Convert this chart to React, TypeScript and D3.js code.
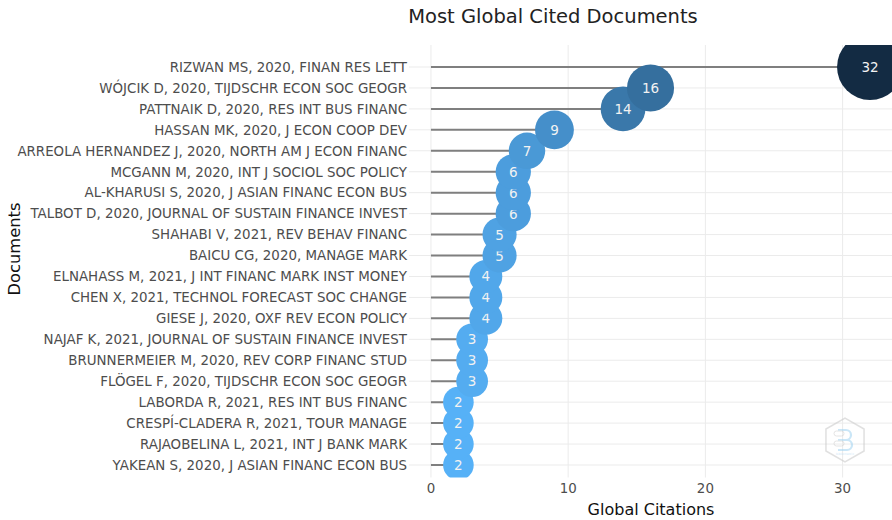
import React from "react";
import * as d3 from "d3";

const documents = [
  "RIZWAN MS, 2020, FINAN RES LETT",
  "WÓJCIK D, 2020, TIJDSCHR ECON SOC GEOGR",
  "PATTNAIK D, 2020, RES INT BUS FINANC",
  "HASSAN MK, 2020, J ECON COOP DEV",
  "ARREOLA HERNANDEZ J, 2020, NORTH AM J ECON FINANC",
  "MCGANN M, 2020, INT J SOCIOL SOC POLICY",
  "AL-KHARUSI S, 2020, J ASIAN FINANC ECON BUS",
  "TALBOT D, 2020, JOURNAL OF SUSTAIN FINANCE INVEST",
  "SHAHABI V, 2021, REV BEHAV FINANC",
  "BAICU CG, 2020, MANAGE MARK",
  "ELNAHASS M, 2021, J INT FINANC MARK INST MONEY",
  "CHEN X, 2021, TECHNOL FORECAST SOC CHANGE",
  "GIESE J, 2020, OXF REV ECON POLICY",
  "NAJAF K, 2021, JOURNAL OF SUSTAIN FINANCE INVEST",
  "BRUNNERMEIER M, 2020, REV CORP FINANC STUD",
  "FLÖGEL F, 2020, TIJDSCHR ECON SOC GEOGR",
  "LABORDA R, 2021, RES INT BUS FINANC",
  "CRESPÍ-CLADERA R, 2021, TOUR MANAGE",
  "RAJAOBELINA L, 2021, INT J BANK MARK",
  "YAKEAN S, 2020, J ASIAN FINANC ECON BUS",
];
const citations = [32, 16, 14, 9, 7, 6, 6, 6, 5, 5, 4, 4, 4, 3, 3, 3, 2, 2, 2, 2];
const xTicks = [0, 10, 20, 30];

const W = 892;
const H = 520;
const plotLeft = 409;
const plotRight = 892;
const plotTop = 45;
const plotBottom = 477.5;
const FONT = "'DejaVu Sans', Verdana, sans-serif";

export default function App() {
  const x = d3.scaleLinear().domain([-1.6, 33.6]).range([plotLeft, plotRight]);
  const y = d3.scalePoint<string>().domain(documents).range([67, 465]);
  const minV = d3.min(citations) as number;
  const maxV = d3.max(citations) as number;
  const r = d3.scaleLinear().domain([minV, maxV]).range([15.3, 33]);
  const color = d3
    .scaleLinear<string>()
    .domain([minV, maxV])
    .range(["#56B1F7", "#132B43"])
    .interpolate(d3.interpolateLab);

  const order = documents.map((d, i) => i).reverse();

  const hexPts = d3.range(6).map((k) => {
    const a = (Math.PI / 3) * k + Math.PI / 6;
    return [845 + 22 * Math.cos(a), 440 + 22 * Math.sin(a)];
  });

  return (
    <svg width={W} height={H} style={{ position: "absolute", left: 0, top: 0, background: "#fff" }}>
      <defs>
        <clipPath id="plotclip">
          <rect x={plotLeft} y={plotTop} width={plotRight - plotLeft} height={plotBottom - plotTop} />
        </clipPath>
      </defs>
      <text x={553} y={23} textAnchor="middle" fontFamily={FONT} fontSize={19.5} fill="#222">
        Most Global Cited Documents
      </text>
      <g>
        {xTicks.map((t) => (
          <line key={t} x1={x(t)} x2={x(t)} y1={plotTop} y2={plotBottom} stroke="#EBEBEB" strokeWidth={1} />
        ))}
        {documents.map((d) => (
          <line key={d} x1={plotLeft} x2={plotRight} y1={y(d)} y2={y(d)} stroke="#EBEBEB" strokeWidth={1} />
        ))}
      </g>
      <g>
        {documents.map((d) => (
          <text
            key={d}
            x={407}
            y={(y(d) as number) + 4.8}
            textAnchor="end"
            fontFamily={FONT}
            fontSize={13.4}
            fill="#4D4D4D"
          >
            {d}
          </text>
        ))}
      </g>
      <g clipPath="url(#plotclip)">
        {documents.map((d, i) => (
          <line
            key={d}
            x1={x(0)}
            x2={x(citations[i])}
            y1={y(d)}
            y2={y(d)}
            stroke="#7F7F7F"
            strokeWidth={2}
          />
        ))}
        {order.map((i) => (
          <g key={documents[i]}>
            <circle cx={x(citations[i])} cy={y(documents[i])} r={r(citations[i])} fill={color(citations[i])} />
            <text
              x={x(citations[i])}
              y={(y(documents[i]) as number) + 5}
              textAnchor="middle"
              fontFamily={FONT}
              fontSize={13.5}
              fill="#F2F2F2"
            >
              {citations[i]}
            </text>
          </g>
        ))}
      </g>
      {xTicks.map((t) => (
        <text key={t} x={x(t)} y={493} textAnchor="middle" fontFamily={FONT} fontSize={13.4} fill="#4D4D4D">
          {t}
        </text>
      ))}
      <text x={651} y={515} textAnchor="middle" fontFamily={FONT} fontSize={16} fill="#111">
        Global Citations
      </text>
      <text
        transform={`translate(20,249) rotate(-90)`}
        textAnchor="middle"
        fontFamily={FONT}
        fontSize={16.3}
        fill="#111"
      >
        Documents
      </text>
      <g opacity={0.55}>
        <polygon points={hexPts.map((p) => p.join(",")).join(" ")} fill="none" stroke="#C8C8C8" strokeWidth={1.5} />
        <path
          d="M838,430 h8 a5,5 0 0 1 0,10 h-8 M838,440 h9 a5,5 0 0 1 0,10 h-9"
          fill="none"
          stroke="#9FD3F2"
          strokeWidth={2.2}
        />
        <rect x={834} y={431} width={10} height={5} rx={2.5} fill="none" stroke="#D0D0D0" strokeWidth={1} />
        <rect x={834} y={441} width={10} height={5} rx={2.5} fill="none" stroke="#D0D0D0" strokeWidth={1} />
        <text x={845} y={455} textAnchor="middle" fontFamily={FONT} fontSize={3} fill="#9FD3F2">
          bibliometrix
        </text>
      </g>
    </svg>
  );
}
